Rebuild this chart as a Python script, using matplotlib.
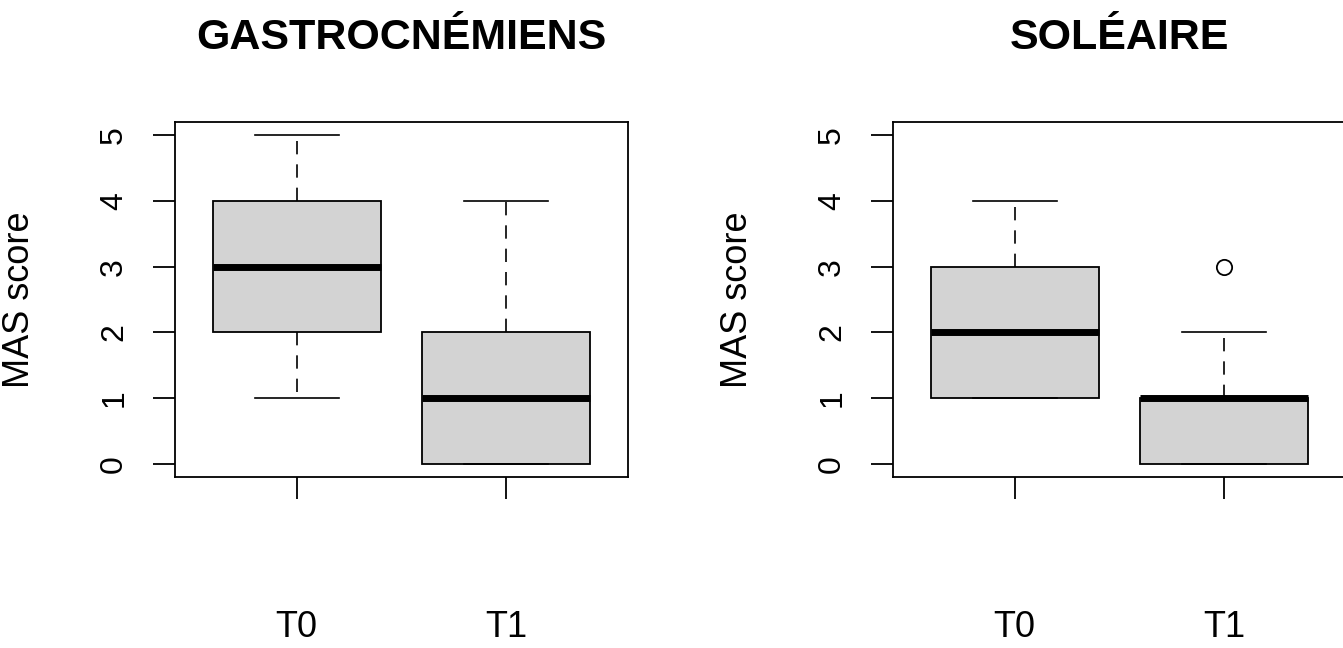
import matplotlib

matplotlib.use("Agg")
import matplotlib.pyplot as plt

plt.rcParams["font.family"] = ["Liberation Sans", "DejaVu Sans"]

# Box statistics (R-style boxplots)
groups = ["T0", "T1"]
titles = ["GASTROCNÉMIENS", "SOLÉAIRE"]

gastro_whislo = [1, 0]
gastro_q1 = [2, 0]
gastro_med = [3, 1]
gastro_q3 = [4, 2]
gastro_whishi = [5, 4]
gastro_fliers = [[], []]

sol_whislo = [1, 0]
sol_q1 = [1, 0]
sol_med = [2, 1]
sol_q3 = [3, 1]
sol_whishi = [4, 2]
sol_fliers = [[], [3]]

yticks = [0, 1, 2, 3, 4, 5]


def make_stats(lo, q1, med, q3, hi, fl):
    return [
        {"label": g, "whislo": a, "q1": b, "med": c, "q3": d, "whishi": e, "fliers": f}
        for g, a, b, c, d, e, f in zip(groups, lo, q1, med, q3, hi, fl)
    ]


panels = [
    make_stats(gastro_whislo, gastro_q1, gastro_med, gastro_q3, gastro_whishi, gastro_fliers),
    make_stats(sol_whislo, sol_q1, sol_med, sol_q3, sol_whishi, sol_fliers),
]

W, H = 1343, 648
fig = plt.figure(figsize=(W / 100, H / 100), dpi=100)
lefts = [175, 893]

for left, stats, title in zip(lefts, panels, titles):
    ax = fig.add_axes([left / W, 1 - 477 / H, 453 / W, 355 / H])
    ax.bxp(
        stats,
        positions=[1, 2],
        widths=0.8,
        patch_artist=True,
        boxprops=dict(facecolor="#d3d3d3", edgecolor="black", linewidth=1.3),
        medianprops=dict(color="black", linewidth=5),
        whiskerprops=dict(color="black", linewidth=1.2, linestyle=(0, (8, 6))),
        capprops=dict(color="black", linewidth=1.2),
        capwidths=0.4,
        flierprops=dict(marker="o", markersize=11, markerfacecolor="none",
                        markeredgecolor="black", markeredgewidth=1.3),
    )
    ax.set_xlim(0.42, 2.58)
    ax.set_ylim(-0.2, 5.2)
    ax.set_yticks(yticks)
    ax.set_yticklabels([str(v) for v in yticks], rotation=90, va="center")
    ax.set_xticks([1, 2])
    ax.set_xticklabels(groups)
    for sp in ax.spines.values():
        sp.set_linewidth(1.3)
    ax.tick_params(axis="y", length=16, width=1.3, pad=17, labelsize=23)
    ax.tick_params(axis="x", length=16, width=1.3, pad=80, labelsize=26)
    ax.set_ylabel("MAS score", fontsize=26)
    ax.yaxis.set_label_coords(-0.305, 0.5)
    fig.text((left + 226.5) / W, 1 - 49 / H, title, ha="center", va="baseline",
             fontsize=31, fontweight="bold")

fig.savefig("out.png", dpi=100)
